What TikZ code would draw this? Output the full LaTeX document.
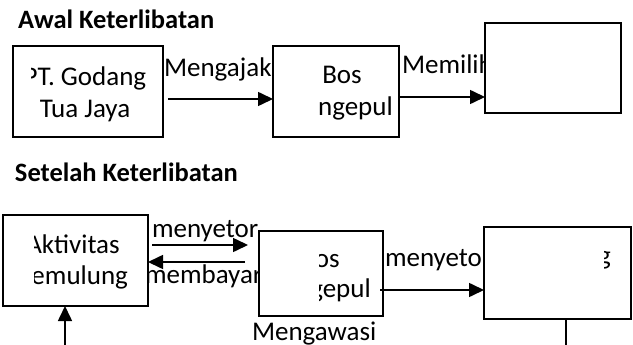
\documentclass[tikz,border=0pt]{standalone}
\usepackage{fontspec}
\setmainfont{Carlito}
\usetikzlibrary{arrows.meta}
\begin{document}
\begin{tikzpicture}[x=1pt,y=-1pt,
  every node/.style={inner sep=0pt, outer sep=0pt},
  txt/.style={anchor=base, font=\fontsize{27}{32}\selectfont},
  lbl/.style={anchor=base west, font=\fontsize{27}{32}\selectfont},
  ttl/.style={anchor=base west, font=\fontsize{26.5}{32}\selectfont\bfseries},
  box/.style={draw, line width=1.6pt, fill=white, rectangle},
  link/.style={line width=1.6pt, -{Triangle[length=15pt,width=14pt]}},
  plain/.style={line width=1.6pt}]
\useasboundingbox (0,0) rectangle (633,345);

% section headings
\node[ttl] (head1) at (18,29) {Awal Keterlibatan};
\node[ttl] (head2) at (15,182) {Setelah Keterlibatan};

% arrow labels (set first so the boxes may cover their ends)
\node[lbl] (lAjak)  at (164,77)  {Mengajak};
\node[lbl] (lPilih) at (402,74)  {Memilih};
\node[lbl] (lSetorA) at (152,237) {menyetor};
\node[lbl] (lBayar) at (145,283) {membayar};
\node[lbl] (lSetorB) at (385,266) {menyetor};
\node[lbl] (lAwasi) at (252,340) {Mengawasi};

% boxes
\node[box, minimum width=150pt, minimum height=91pt] (pt)   at (88,91.5)   {};
\node[box, minimum width=126pt, minimum height=91pt] (bosA) at (336,91.5)  {};
\node[box, minimum width=136pt, minimum height=90pt] (pick) at (553,68)    {};
\node[box, minimum width=145pt, minimum height=91pt] (act)  at (75.5,260.5){};
\node[box, minimum width=124pt, minimum height=85pt] (bosB) at (321,273.5) {};
\node[box, minimum width=147pt, minimum height=92pt] (dest) at (557.5,273) {};

% box texts, cut by their text frames
\begin{scope}
  \clip (31,48) rectangle (162,136);
  \node[txt] (ptA) at (85,86)  {PT. Godang};
  \node[txt] (ptB) at (85,118) {Tua Jaya};
\end{scope}
\begin{scope}
  \clip (318,48) rectangle (398,136);
  \node[txt] (bosAa) at (342,84)  {Bos};
  \node[txt] (bosAb) at (342,116) {Pengepul};
\end{scope}
\begin{scope}
  \clip (34,217) rectangle (147,305);
  \node[txt] (actA) at (73,253) {Aktivitas};
  \node[txt] (actB) at (73,284) {Pemulung};
\end{scope}
\begin{scope}
  \clip (319,233) rectangle (382,315);
  \node[txt] (bosBa) at (320,267) {Bos};
  \node[txt] (bosBb) at (320,297) {Pengepul};
\end{scope}
\begin{scope}
  \clip (604,229) rectangle (630,318);
  \node[lbl] (destA) at (598,264) {g};
\end{scope}

% connectors, upper row
\coordinate (c1) at ([yshift=-7.5pt]pt.east);
\draw[link, shorten <=5pt] (c1) -- (c1 -| bosA.west);
\coordinate (c2) at ([yshift=-5.5pt]bosA.east);
\draw[link] (c2) -- (c2 -| pick.west);

% connectors, lower row
\coordinate (c3) at ([yshift=15.5pt]act.east);
\draw[link, shorten <=4pt, shorten >=11pt] (c3) -- (c3 -| bosB.west);
\coordinate (c4) at ([yshift=-1.5pt]act.east);
\draw[link, shorten <=14pt] (c4 -| bosB.west) -- (c4);
\coordinate (c5) at ([yshift=-16.5pt]bosB.east);
\draw[link, shorten <=-3pt] (c5) -- (c5 -| dest.west);

% lines running off the bottom edge
\coordinate (footA) at (65,350);
\draw[link] (footA) -- (footA |- act.south);
\coordinate (footB) at (566,350);
\draw[plain] (footB |- dest.south) -- (footB);
\end{tikzpicture}
\end{document}
